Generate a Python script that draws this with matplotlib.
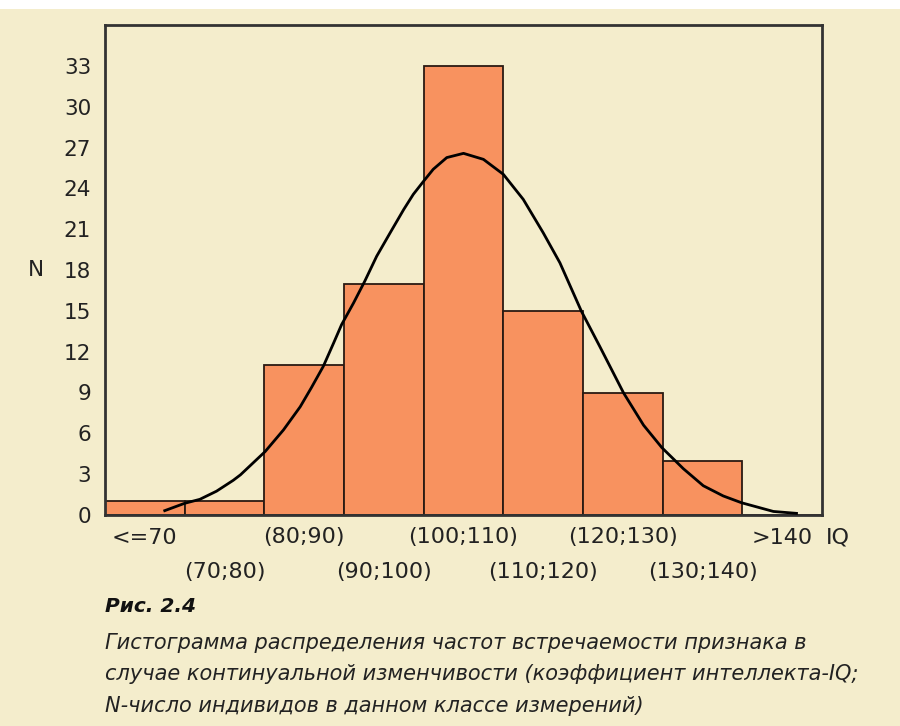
import numpy as np
import matplotlib.pyplot as plt
from matplotlib.patches import Rectangle

# IQ classes and counts
classes = ['<=70', '(70;80)', '(80;90)', '(90;100)', '(100;110)',
           '(110;120)', '(120;130)', '(130;140)', '>140']
counts = [1, 1, 11, 17, 33, 15, 9, 4, 0]

# fitted curve, points (x in class units, 0 = first class)
curve_x = [0.25, 0.50, 0.69, 0.90, 1.11, 1.20, 1.51, 1.74, 1.95, 2.09, 2.24,
           2.37, 2.47, 2.62, 2.76, 2.91, 3.08, 3.25, 3.37, 3.50, 3.62, 3.79,
           4.00, 4.25, 4.50, 4.75, 5.00, 5.21, 5.48, 5.71, 6.01, 6.26, 6.49,
           6.76, 7.01, 7.26, 7.49, 7.89, 8.18]
curve_y = [0.32, 0.86, 1.15, 1.75, 2.55, 2.95, 4.66, 6.25, 7.95, 9.35, 10.92,
           12.64, 13.99, 15.58, 17.17, 19.01, 20.74, 22.45, 23.56, 24.53, 25.40,
           26.26, 26.57, 26.13, 25.03, 23.19, 20.74, 18.53, 14.97, 12.39, 8.96,
           6.60, 4.95, 3.40, 2.15, 1.40, 0.90, 0.26, 0.12]

yticks = list(range(0, 34, 3))

bg = '#f4edcc'
bar_col = '#f8925f'
txt = '#222222'

fig = plt.figure(figsize=(9, 7.26), dpi=100, facecolor=bg)
fig.patches.append(Rectangle((0, 1 - 9 / 726), 1, 9 / 726, transform=fig.transFigure,
                             facecolor='white', edgecolor='none', zorder=0))
ax = fig.add_axes([105 / 900, 1 - 515 / 726, 717 / 900, 490 / 726])
ax.set_facecolor(bg)

x = np.arange(len(classes))
ax.bar(x, counts, width=1.0, color=bar_col, edgecolor='#2a1a12', linewidth=1.3, zorder=2)
ax.plot(curve_x, curve_y, color='black', lw=2, zorder=3)

ax.set_xlim(-0.5, 8.5)
ax.set_ylim(0, 36)
for s in ax.spines.values():
    s.set_color('#333333')
    s.set_linewidth(2)

ax.set_yticks(yticks)
ax.set_yticklabels([str(v) for v in yticks], fontsize=15.5, color=txt)
ax.tick_params(axis='y', length=0, pad=10)

# staggered class labels: even classes on first row, odd on second
labs = list(classes)
ax.set_xticks(x[::2])
ax.set_xticklabels(labs[::2], fontsize=16, color=txt)
ax.set_xticks(x[1::2], minor=True)
ax.set_xticklabels(labs[1::2], minor=True, fontsize=16, color=txt)
ax.tick_params(axis='x', which='major', length=0, pad=9)
ax.tick_params(axis='x', which='minor', length=0, pad=34)

ax.annotate('IQ', xy=(1, 0), xycoords='axes fraction', xytext=(3, -9),
            textcoords='offset points', fontsize=16, color=txt, ha='left', va='top')
ax.text(-0.096, 18, 'N', transform=ax.get_yaxis_transform(), fontsize=15.5,
        color=txt, ha='center', va='center')

fig.text(105 / 900, 1 - 607 / 726, 'Рис. 2.4', fontsize=14.5, fontweight='bold',
         style='italic', color='#111111', ha='left', va='center')
caption = ['Гистограмма распределения частот встречаемости признака в',
           'случае континуальной изменчивости (коэффициент интеллекта-IQ;',
           'N-число индивидов в данном классе измерений)']
for i, line in enumerate(caption):
    fig.text(105 / 900, 1 - (643 + 31.5 * i) / 726, line, fontsize=15,
             style='italic', color='#222222', ha='left', va='center')

fig.savefig('out.png', dpi=100, facecolor=bg)
